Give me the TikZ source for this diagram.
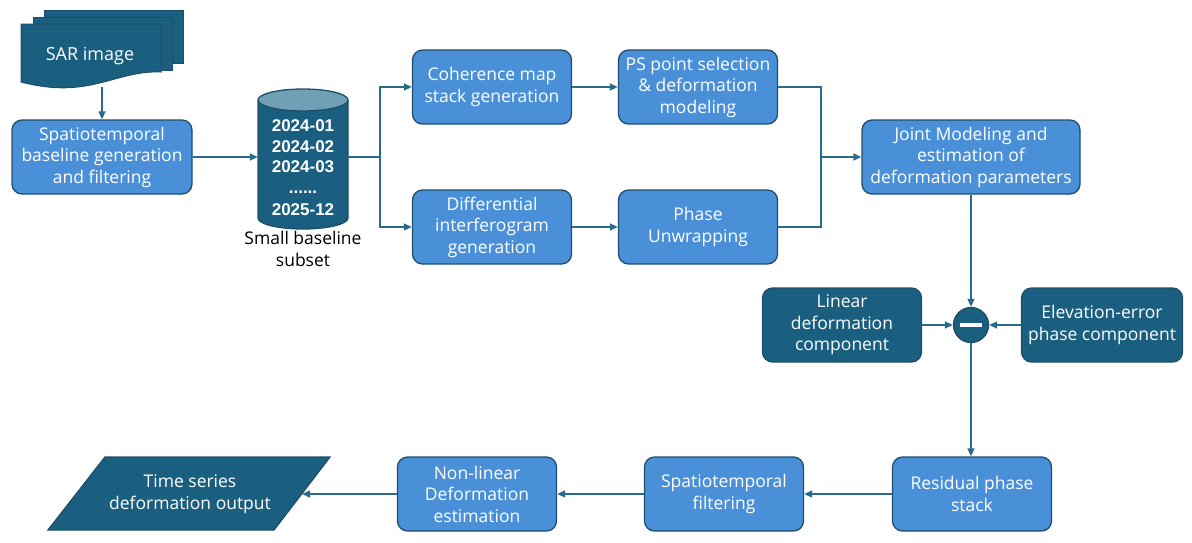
\documentclass[tikz,border=0pt]{standalone}
\usepackage{fontspec}
\setmainfont{Open Sans}
\newfontfamily\datefont{Liberation Sans}
\usepackage{xcolor}
\definecolor{boxblue}{HTML}{4A90D9}
\definecolor{deepblue}{HTML}{1A5E80}
\definecolor{edgeblue}{HTML}{1E4F6A}
\definecolor{linkblue}{HTML}{2A6B8C}
\definecolor{captop}{HTML}{6FA0B6}
\usepackage{tikz}
\usetikzlibrary{arrows.meta, positioning, calc}

\tikzset{
  stage/.style={draw=edgeblue, line width=1.3pt, fill=boxblue, rounded corners=10pt,
    text=white, align=center, minimum width=159pt, minimum height=74pt, inner sep=1pt,
    font=\fontsize{17.5}{21.5}\selectfont},
  darkstage/.style={stage, fill=deepblue},
  link/.style={draw=linkblue, line width=1.5pt},
  flow/.style={link, -{Triangle[length=8pt,width=7pt]}},
}

\begin{document}
\begin{tikzpicture}[x=1pt, y=-1pt]
  \useasboundingbox (0,0) rectangle (1192,542);

  % SAR image stack
  \filldraw[fill=deepblue, draw=edgeblue, line width=1pt] (44,10) rectangle (183,63);
  \filldraw[fill=deepblue, draw=edgeblue, line width=1pt] (33,17) rectangle (172,70);
  \filldraw[fill=deepblue, draw=edgeblue, line width=1pt] (21,24) -- (161,24) -- (161,72)
    .. controls (115,70) and (90,100) .. (21,82) -- cycle;
  \node[text=white, font=\fontsize{18}{20}\selectfont] (sar) at (90,56) {SAR image};
  \coordinate (sarB) at (102,87);

  % small baseline subset
  \filldraw[fill=deepblue, draw=edgeblue, line width=1.3pt] (258,100) -- (258,218)
    arc[start angle=180, end angle=360, x radius=45pt, y radius=11pt] -- (348,100);
  \filldraw[fill=captop, draw=edgeblue, line width=1.3pt] (303,100) ellipse [x radius=45pt, y radius=11pt];
  \node[minimum width=90pt, minimum height=140pt] (db) at (303,158) {};
  \node[text=white, align=center, font=\datefont\bfseries\fontsize{17}{20.5}\selectfont] (dates) at (303,168)
    {2024-01\\2024-02\\2024-03\\......\\[2pt]2025-12};
  \node[align=center, font=\fontsize{17.5}{21.5}\selectfont] (dbcap) at (303,249) {Small baseline\\subset};

  % stages
  \node[stage, minimum width=180pt] (stb) at (102,157) {Spatiotemporal\\baseline generation\\and filtering};
  \node[stage] (coh) at (492,87) {Coherence map\\stack generation};
  \node[stage] (ps) at (698,87) {PS point selection\\\& deformation\\modeling};
  \node[stage] (dif) at (492,227) {Differential\\interferogram\\generation};
  \node[stage] (pu) at (698,227) {Phase\\Unwrapping};
  \node[stage, minimum width=218pt] (joint) at (971,157) {Joint Modeling and\\estimation of\\deformation parameters};
  \node[darkstage] (lin) at (842,325) {Linear\\deformation\\component};
  \node[darkstage, minimum width=161pt] (elev) at (1102,325) {Elevation-error\\phase component};
  \node[circle, draw=edgeblue, fill=deepblue, line width=1.3pt, minimum size=35pt, inner sep=0pt] (minus) at (971,325)
    {\textcolor{white}{\rule{22pt}{4pt}}};
  \node[stage] (res) at (972,494) {Residual phase\\stack};
  \node[stage] (sf) at (724,494) {Spatiotemporal\\filtering};
  \node[stage] (nl) at (477,494) {Non-linear\\Deformation\\estimation};

  % output
  \filldraw[fill=deepblue, draw=edgeblue, line width=1.3pt] (48,530) -- (105,457) -- (330,457) -- (274,530) -- cycle;
  \node[text=white, align=center, font=\fontsize{17.5}{21.5}\selectfont] (out) at (190,494) {Time series\\deformation output};
  \coordinate (outR) at (302,494);

  % connectors
  \draw[flow] (sarB) -- (stb.north);
  \draw[flow] (stb.east) -- (stb.east -| db.west);
  \coordinate (fork) at (380,157);
  \draw[link] (db.east |- fork) -- (fork);
  \draw[flow] (fork) |- (coh.west);
  \draw[flow] (fork) |- (dif.west);
  \draw[flow] (coh) -- (ps);
  \draw[flow] (dif) -- (pu);
  \coordinate (merge) at (821,157);
  \draw[link] (ps.east) -| (merge);
  \draw[link] (pu.east) -| (merge);
  \draw[flow] (merge) -- (joint.west);
  \draw[flow] (joint.south) -- (minus.north);
  \draw[flow] (lin) -- (minus);
  \draw[flow] (elev) -- (minus);
  \draw[flow] (minus.south) -- (minus.south |- res.north);
  \draw[flow] (res) -- (sf);
  \draw[flow] (sf) -- (nl);
  \draw[flow] (nl.west) -- (outR);
\end{tikzpicture}
\end{document}
